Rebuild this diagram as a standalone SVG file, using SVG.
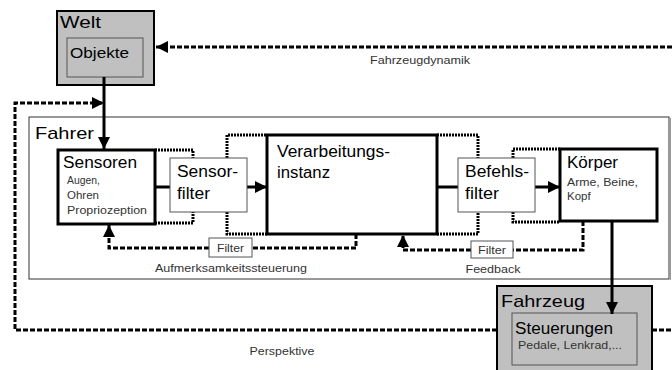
<svg xmlns="http://www.w3.org/2000/svg" width="672" height="370" viewBox="0 0 672 370">
<style>
.t{font-family:"Liberation Sans",Arial,sans-serif;fill:#000}
.big{font-size:17px}
.mid{font-size:16px}
.sm{font-size:11.500px;fill:#333}
.lbl{font-size:11.500px;fill:#333}
.gray{fill:#c0c0c0;stroke:#000;stroke-width:2}
.inner{fill:#c0c0c0;stroke:#555;stroke-width:1}
.thick{fill:#fff;stroke:#000;stroke-width:3}
.thin{fill:#fff;stroke:#555;stroke-width:1}
.solid{fill:none;stroke:#000;stroke-width:3}
.dash{fill:none;stroke:#000;stroke-width:3;stroke-dasharray:5 2}
.dot{fill:none;stroke:#000;stroke-width:3;stroke-dasharray:2 1}
</style>
<defs>
<marker id="ah" markerUnits="userSpaceOnUse" markerWidth="14" markerHeight="14" refX="12" refY="6" orient="auto">
<path d="M0,0 L12,6 L0,12 Z" fill="#000"/>
</marker>
</defs>
<rect x="0" y="0" width="672" height="370" fill="#fff"/>
<g id="fahrer">
<rect x="29" y="117" width="640" height="162" fill="#fff" stroke="#333" stroke-width="1"/>
<line x1="670.500" y1="118" x2="670.500" y2="280" stroke="#999" stroke-width="1"/>
<text class="t big" x="35" y="139" textLength="59" lengthAdjust="spacingAndGlyphs">Fahrer</text>
</g>
<g id="welt">
<rect class="gray" x="57" y="11" width="97" height="74"/>
<text class="t big" x="60" y="28" textLength="41" lengthAdjust="spacingAndGlyphs">Welt</text>
<rect class="inner" x="67" y="38" width="76" height="39"/>
<text class="t" style="font-size:14px" x="70" y="58" textLength="59" lengthAdjust="spacingAndGlyphs">Objekte</text>
</g>
<g id="fahrzeug">
<rect class="gray" x="497" y="286" width="155" height="90"/>
<text class="t big" x="501" y="307" textLength="84" lengthAdjust="spacingAndGlyphs">Fahrzeug</text>
<rect class="inner" x="512" y="313" width="125" height="52"/>
<text class="t mid" x="515" y="334" textLength="98" lengthAdjust="spacingAndGlyphs">Steuerungen</text>
<text class="t sm" x="518" y="349" textLength="104" lengthAdjust="spacingAndGlyphs">Pedale, Lenkrad,...</text>
</g>
<g id="connectors">
<path class="dash" d="M672,47 H156" marker-end="url(#ah)"/>
<path class="dash" d="M497,330 H15 V103 H104" marker-end="url(#ah)"/>
<path class="dash" d="M652,330 H672"/>
<path class="solid" d="M104,77 V149" marker-end="url(#ah)"/>
<path class="solid" d="M155,187 H170"/>
<path class="solid" d="M247,187 H267" marker-end="url(#ah)"/>
<path class="solid" d="M437,187 H458"/>
<path class="solid" d="M535,187 H560" marker-end="url(#ah)"/>
<path class="solid" d="M612,221 V314" marker-end="url(#ah)"/>
<path class="dot" d="M155,150 H193 V158"/>
<path class="dot" d="M155,223 H193 V212"/>
<path class="dot" d="M227,158 V135 H267"/>
<path class="dot" d="M227,212 V234 H267"/>
<path class="dot" d="M437,135 H478 V158"/>
<path class="dot" d="M437,234 H478 V212"/>
<path class="dot" d="M513,158 V149 H560"/>
<path class="dot" d="M513,212 V222 H560"/>
<path class="dash" d="M356,234 V248 H252"/>
<path class="dash" d="M209,248 H109 V225" marker-end="url(#ah)"/>
<path class="dash" d="M583,221 V250 H513"/>
<path class="dash" d="M471,250 H403 V235" marker-end="url(#ah)"/>
</g>
<g id="sensoren">
<rect class="thick" x="58" y="150" width="97" height="74"/>
<text class="t mid" x="63" y="168" textLength="74" lengthAdjust="spacingAndGlyphs">Sensoren</text>
<text class="t sm" x="67" y="184" textLength="33" lengthAdjust="spacingAndGlyphs">Augen,</text>
<text class="t sm" x="67" y="199">Ohren</text>
<text class="t sm" x="67" y="214" textLength="80" lengthAdjust="spacingAndGlyphs">Propriozeption</text>
</g>
<g id="sensorfilter">
<rect class="thin" x="170" y="158" width="77" height="54"/>
<text class="t mid" x="177" y="177" textLength="61" lengthAdjust="spacingAndGlyphs">Sensor-</text>
<text class="t mid" x="177" y="199" textLength="33" lengthAdjust="spacingAndGlyphs">filter</text>
</g>
<g id="verarbeitung">
<rect class="thick" x="267" y="135" width="170" height="99"/>
<text class="t mid" x="277" y="157" textLength="113" lengthAdjust="spacingAndGlyphs">Verarbeitungs-</text>
<text class="t mid" x="277" y="178" textLength="53" lengthAdjust="spacingAndGlyphs">instanz</text>
</g>
<g id="befehlsfilter">
<rect class="thin" x="458" y="158" width="77" height="54"/>
<text class="t mid" x="465" y="177" textLength="64" lengthAdjust="spacingAndGlyphs">Befehls-</text>
<text class="t mid" x="465" y="199" textLength="34" lengthAdjust="spacingAndGlyphs">filter</text>
</g>
<g id="koerper">
<rect class="thick" x="560" y="149" width="97" height="72"/>
<text class="t mid" x="567" y="168" textLength="51" lengthAdjust="spacingAndGlyphs">Körper</text>
<text class="t sm" x="567" y="186" textLength="71" lengthAdjust="spacingAndGlyphs">Arme, Beine,</text>
<text class="t sm" x="567" y="200">Kopf</text>
</g>
<g id="filter1">
<rect class="thin" x="209" y="238" width="43" height="19"/>
<text class="t sm" x="230.500" y="252" text-anchor="middle" textLength="27" lengthAdjust="spacingAndGlyphs">Filter</text>
</g>
<g id="filter2">
<rect class="thin" x="471" y="241" width="42" height="17"/>
<text class="t sm" x="492" y="254" text-anchor="middle" textLength="28" lengthAdjust="spacingAndGlyphs">Filter</text>
</g>
<g id="labels">
<text class="t lbl" x="420" y="64" text-anchor="middle" textLength="100" lengthAdjust="spacingAndGlyphs">Fahrzeugdynamik</text>
<text class="t lbl" x="231" y="272" text-anchor="middle" textLength="152" lengthAdjust="spacingAndGlyphs">Aufmerksamkeitssteuerung</text>
<text class="t lbl" x="493" y="273" text-anchor="middle" textLength="55" lengthAdjust="spacingAndGlyphs">Feedback</text>
<text class="t lbl" x="282" y="355" text-anchor="middle" textLength="65" lengthAdjust="spacingAndGlyphs">Perspektive</text>
</g>
</svg>
